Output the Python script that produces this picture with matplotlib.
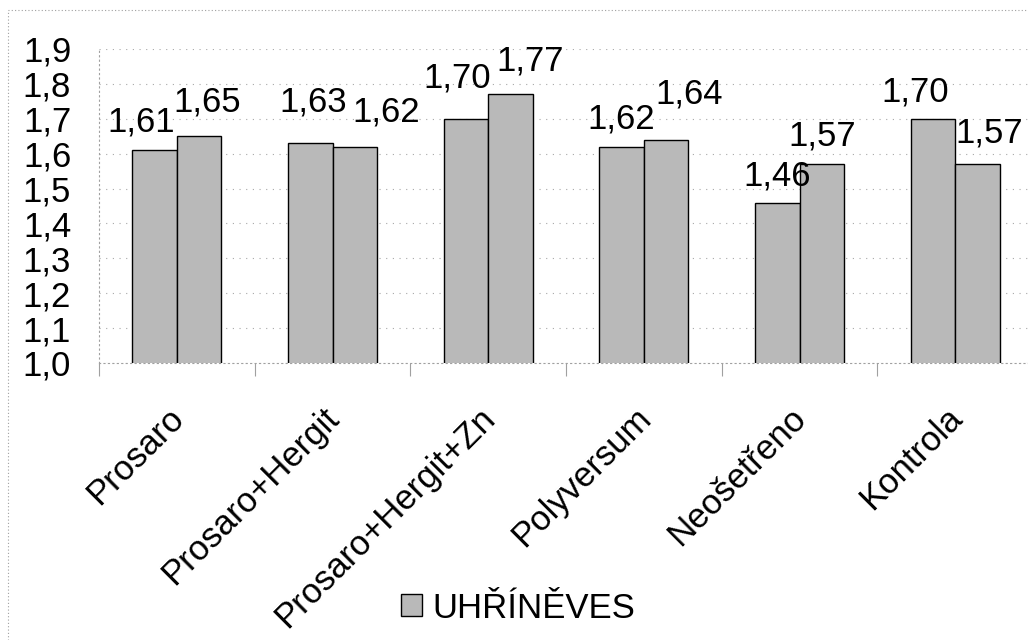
import numpy as np
import matplotlib
matplotlib.use("Agg")
import matplotlib.pyplot as plt
from matplotlib.patches import Rectangle

plt.rcParams['font.family'] = ['Liberation Sans', 'DejaVu Sans']

# data
kategorie = ['Prosaro', 'Prosaro+Hergit', 'Prosaro+Hergit+Zn', 'Polyversum', 'Neošetřeno', 'Kontrola']
hodnoty_1 = [1.61, 1.63, 1.70, 1.62, 1.46, 1.70]
hodnoty_2 = [1.65, 1.62, 1.77, 1.64, 1.57, 1.57]
y_ticks = [1.0, 1.1, 1.2, 1.3, 1.4, 1.5, 1.6, 1.7, 1.8, 1.9]
nazev_serie = 'UHŘÍNĚVES'

# posuny popisku (px) - v originale jsou rucne posunute
posun_x_1 = [-13, 3, -9, 0, 0, -18]
posun_y_1 = [19, 32, 31, 18, 17, 17]
posun_x_2 = [8, 31, 20, 23, 0, 12]
posun_y_2 = [25, 25, 24, 36, 19, 22]

W, H = 1028, 640
fig = plt.figure(figsize=(W / 100, H / 100), dpi=100)
ax = fig.add_axes([99 / W, 1 - 363 / H, 934 / W, 314 / H])

x = np.arange(len(kategorie))
sirka = 0.286
barva = '#b9b9b9'
b1 = ax.bar(x - sirka / 2, hodnoty_1, sirka, color=barva, edgecolor='black', linewidth=1.0,
            label=nazev_serie, zorder=3)
b2 = ax.bar(x + sirka / 2, hodnoty_2, sirka, color=barva, edgecolor='black', linewidth=1.0, zorder=3)

ax.set_ylim(1.0, 1.9)
ax.set_xlim(-0.5, len(kategorie) - 0.5)

fs = 25
px = 72 / 100  # px -> pt
for bars, vals, dxs, dys in [(b1, hodnoty_1, posun_x_1, posun_y_1), (b2, hodnoty_2, posun_x_2, posun_y_2)]:
    for r, v, dx, dy in zip(bars, vals, dxs, dys):
        ax.annotate(f'{v:.2f}'.replace('.', ','), (r.get_x() + r.get_width() / 2, v),
                    xytext=(dx * px, dy * px), textcoords='offset points',
                    ha='center', va='baseline', fontsize=fs, color='black', zorder=5,
                    annotation_clip=False)

ax.set_yticks(y_ticks)
ax.set_yticklabels([f'{t:.1f}'.replace('.', ',') for t in y_ticks], fontsize=fs)

# popisky kategorii sikmo pod osou
ax.set_xticks(x)
ax.set_xticklabels([])
for xi, nazev in zip(x, kategorie):
    ax.annotate(nazev, (xi, 0), xycoords=ax.get_xaxis_transform(),
                xytext=(-10 * px, -38 * px), textcoords='offset points',
                rotation=45, ha='right', va='top', rotation_mode='anchor',
                fontsize=fs, annotation_clip=False)
ax.set_xticks(np.arange(-0.5, len(kategorie), 1), minor=True)
ax.tick_params(axis='y', length=0, pad=20)
ax.tick_params(axis='x', which='major', length=0)
ax.tick_params(axis='x', which='minor', length=9, width=0.8, color='#a0a0a0')

ax.grid(axis='y', color='#a8a8a8', linestyle=(0, (1, 5)), linewidth=0.8, zorder=0)
for s in ['top', 'right']:
    ax.spines[s].set_visible(False)
for s in ['left', 'bottom']:
    ax.spines[s].set_color('#a0a0a0')
    ax.spines[s].set_linestyle((0, (1, 3)))
    ax.spines[s].set_linewidth(0.8)

# ramecek grafu
fig.patches.append(Rectangle((8 / W, -0.1), 2, 1.1 - 10 / H, transform=fig.transFigure,
                             fill=False, edgecolor='#a0a0a0', linestyle=(0, (1, 2)), linewidth=0.8))

fig.legend(handles=[b1], labels=[nazev_serie], loc='center', bbox_to_anchor=(518 / W, 1 - 608 / H),
           frameon=False, fontsize=fs, handlelength=0.6, handleheight=0.6, handletextpad=0.3)

fig.savefig('out.png', dpi=100)
